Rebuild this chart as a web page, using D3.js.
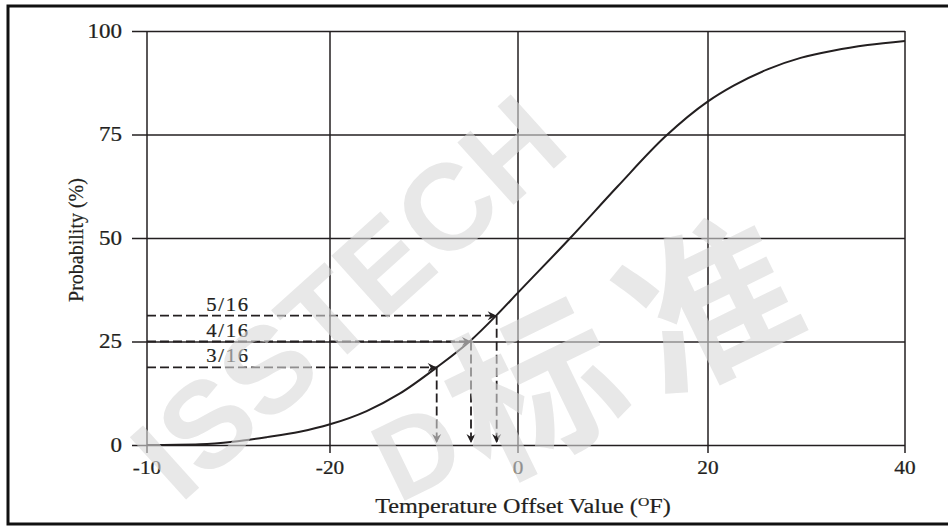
<!DOCTYPE html>
<html><head><meta charset="utf-8">
<script src="https://cdn.jsdelivr.net/npm/d3@7"></script>
<style>
body{margin:0;background:#fff}
svg{display:block}
text{font-family:"Liberation Serif","Times New Roman",serif;fill:#231f20}
</style>
</head><body>
<svg id="c" width="948" height="527"></svg>
<script>
// ---- data ----
const xTickValues = [-40, -20, 0, 20, 40];
const xTickLabels = ["-10", "-20", "0", "20", "40"];
const yTickValues = [0, 25, 50, 75, 100];
const curveX = [-40, -34.2, -30.6, -26.9, -23.3, -20, -16.1, -12.6, -8.65, -5.0, -2.3, 0, 5.5, 10.5, 15.5, 20, 22.6, 26.1, 29.4, 32.8, 36.2, 40];
const curveY = [0, 0.2, 0.8, 1.9, 3.2, 5.0, 8.2, 12.4, 18.75, 25.3, 31.3, 36.8, 50, 62.5, 74.5, 83.0, 86.8, 90.8, 93.5, 95.3, 96.6, 97.6];
const fractionLabels = ["3/16", "4/16", "5/16"];
const fractionProb = [18.75, 25, 31.25];
const fractionTemp = [-8.65, -5.0, -2.27];
const xTitle = "Temperature Offset Value (";
const yTitle = "Probability (%)";
const watermark1 = "ISSTECH";
const watermark2a = "D";
const watermark2b = "标准";

// ---- layout ----
const svg = d3.select("#c");
const ink = "#231f20";
const SX = 1.15; // horizontal stretch of the original artwork text

svg.append("rect").attr("width", 948).attr("height", 527).attr("fill", "#fff");
svg.append("rect").attr("x", 8).attr("y", 6).attr("width", 980).attr("height", 518)
  .attr("fill", "none").attr("stroke", "#111").attr("stroke-width", 3);

const x = d3.scaleLinear().domain(xTickValues).range([147, 330, 518, 708, 905]);
const y = d3.scaleLinear().domain([0, 100]).range([445, 31]);

function stretch(sel){
  sel.each(function(){
    const t = d3.select(this);
    const tx = +t.attr("x") || 0;
    t.attr("x", tx / SX).attr("transform", `scale(${SX},1)`);
  });
}

// y axis with gridlines
const gy = svg.append("g").attr("transform", "translate(132,0)")
  .call(d3.axisLeft(y).tickValues(yTickValues).tickSize(-(905 - 132)).tickPadding(10));
gy.select(".domain").remove();
gy.selectAll("line").attr("stroke", ink).attr("stroke-width", 1.5);
gy.selectAll("text").attr("font-size", 20).attr("font-family", "Liberation Serif").attr("fill", ink)
  .attr("stroke", ink).attr("stroke-width", 0.25).call(stretch);

// x axis with gridlines
const gx = svg.append("g").attr("transform", "translate(0,453)")
  .call(d3.axisBottom(x).tickValues(xTickValues).tickFormat((d, i) => xTickLabels[i]).tickSize(-(453 - 31)).tickPadding(8));
gx.select(".domain").remove();
gx.selectAll("line").attr("stroke", ink).attr("stroke-width", 1.5);
gx.selectAll(".tick text").attr("font-size", 18.5).attr("font-family", "Liberation Serif").attr("fill", ink)
  .attr("stroke", ink).attr("stroke-width", 0.25)
  .attr("transform", `scale(${SX},1)`);
gx.selectAll(".tick").each(function(d){
  const t = d3.select(this);
  const tx = x(d);
  t.attr("transform", null);
  t.select("line").attr("x1", tx).attr("x2", tx);
  t.select("text").attr("x", tx / SX);
});

// curve
const pts = curveX.map((v, i) => [v, curveY[i]]);
svg.append("path").datum(pts)
  .attr("fill", "none").attr("stroke", ink).attr("stroke-width", 2)
  .attr("d", d3.line().x(d => x(d[0])).y(d => y(d[1])).curve(d3.curveMonotoneX));

// arrow marker
const defs = svg.append("defs");
defs.append("marker").attr("id", "arr").attr("viewBox", "-10 -5 11 10")
  .attr("refX", 0).attr("refY", 0).attr("markerWidth", 11).attr("markerHeight", 10)
  .attr("markerUnits", "userSpaceOnUse").attr("orient", "auto")
  .append("path").attr("d", "M0,0 L-9,-4.5 L-6,0 L-9,4.5 Z").attr("fill", ink).attr("stroke", "none");

// dashed guides
fractionLabels.forEach((lab, i) => {
  const px = x(fractionTemp[i]), py = y(fractionProb[i]);
  svg.append("line").attr("x1", x(-40)).attr("x2", px).attr("y1", py).attr("y2", py)
    .attr("stroke", ink).attr("stroke-width", 1.8).attr("stroke-dasharray", "9,4")
    .attr("marker-end", "url(#arr)");
  svg.append("line").attr("x1", px).attr("x2", px).attr("y1", py).attr("y2", y(0) - 2)
    .attr("stroke", ink).attr("stroke-width", 1.8).attr("stroke-dasharray", "9,4")
    .attr("marker-end", "url(#arr)");
  svg.append("text").attr("transform", `translate(${228},${py - 5}) scale(${SX},1)`)
    .attr("text-anchor", "middle").attr("font-size", 18).attr("letter-spacing", 1.5)
    .attr("stroke", ink).attr("stroke-width", 0.2).text(lab);
});

// axis titles
const xt = svg.append("text").attr("transform", `translate(523,513) scale(1.21,1)`)
  .attr("text-anchor", "middle").attr("font-size", 20).attr("stroke", ink).attr("stroke-width", 0.2);
xt.append("tspan").text(xTitle);
xt.append("tspan").attr("font-size", 13).attr("dy", -7).text("O");
xt.append("tspan").attr("dy", 7).text("F)");

svg.append("text").attr("transform", "translate(83,240) rotate(-90)")
  .attr("text-anchor", "middle").attr("font-size", 20).attr("stroke", ink).attr("stroke-width", 0.2).text(yTitle);

// watermark (semi-transparent overlay like the source)
const wm = svg.append("g").attr("opacity", 0.6);
wm.append("text").attr("transform", "translate(180,505) rotate(-42)")
  .attr("text-anchor", "start").style("font-family", "Liberation Sans").style("fill", "#d9d9d9")
  .attr("font-weight", "bold").attr("font-size", 122).text(watermark1);
wm.append("text").attr("transform", "translate(398,504) rotate(-26)")
  .attr("text-anchor", "start").style("font-family", "Liberation Sans").style("fill", "#d9d9d9")
  .attr("font-weight", "bold").attr("font-size", 112).text(watermark2a);
wm.append("text").attr("transform", "translate(487,482) rotate(-26)")
  .attr("text-anchor", "start").style("font-family", "Noto Sans CJK SC").style("fill", "#d9d9d9")
  .attr("font-weight", "bold").attr("font-size", 168).attr("letter-spacing", 25).text(watermark2b);
</script>
</body></html>
